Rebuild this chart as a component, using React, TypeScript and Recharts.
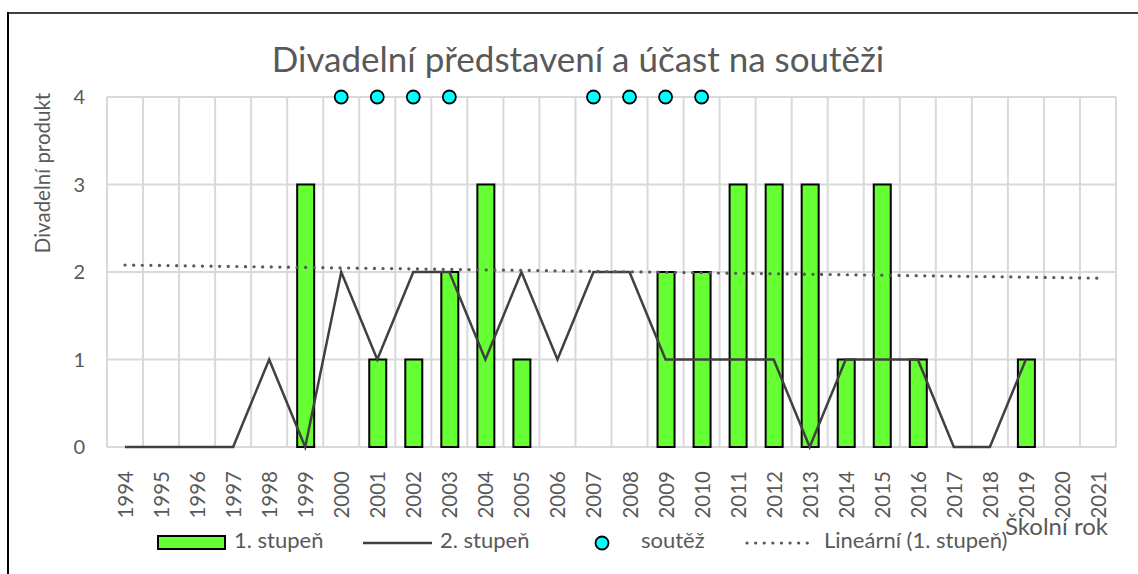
import React from "react";
import { ComposedChart, Bar, Line, XAxis, YAxis, CartesianGrid } from "recharts";

const years = ["1994","1995","1996","1997","1998","1999","2000","2001","2002","2003","2004","2005","2006","2007","2008","2009","2010","2011","2012","2013","2014","2015","2016","2017","2018","2019","2020","2021"];
const stupen1: (number | null)[] = [null,null,null,null,null,3,null,1,1,2,3,1,null,null,null,2,2,3,3,3,1,3,1,null,null,1,null,null];
const stupen2: (number | null)[] = [0,0,0,0,1,0,2,1,2,2,1,2,1,2,2,1,1,1,1,0,1,1,1,0,0,1,null,null];
const soutez: (number | null)[] = [null,null,null,null,null,null,4,4,4,4,null,null,null,4,4,4,4,null,null,null,null,null,null,null,null,null,null,null];
const trend: (number | null)[] = [2.08,null,null,null,null,null,null,null,null,null,null,null,null,null,null,null,null,null,null,null,null,null,null,null,null,null,null,1.93];
const yTicks = [0, 1, 2, 3, 4];

const data = years.map((y, i) => ({ year: y, s1: stupen1[i], s2: stupen2[i], sz: soutez[i], tr: trend[i] }));

const FONT = "Lato, 'Open Sans', sans-serif";
const GRAY = "#595959";

const XTick = (props: any) => {
  const { x, y, payload } = props;
  return (
    <g transform={`translate(${x},${y})`}>
      <text transform="rotate(-90)" x={-16} y={0} textAnchor="end" dominantBaseline="central" fill={GRAY} fontSize={20.5} fontFamily={FONT}>
        {payload.value}
      </text>
    </g>
  );
};

const Dot = (props: any) => {
  const { cx, cy, value } = props;
  if (value == null || cx == null || cy == null) return null;
  return <circle key={`d${cx}`} cx={cx} cy={cy} r={6.5} fill="#00ffff" stroke="#000" strokeWidth={1.8} />;
};

export default function App() {
  const n = years.length;
  return (
    <div style={{ position: "absolute", left: 0, top: 0, width: 1138, height: 574, background: "#fff", fontFamily: FONT, overflow: "hidden" }}>
      <div style={{ position: "absolute", left: 7, top: 12, width: 1131, height: 2, background: "#404040" }} />
      <div style={{ position: "absolute", left: 7, top: 12, width: 2, height: 562, background: "#000" }} />
      <div style={{ position: "absolute", left: -22, width: 1200, top: 37, textAlign: "center", fontSize: 35, lineHeight: 1.2, color: GRAY, whiteSpace: "nowrap" }}>
        Divadelní představení a účast na soutěži
      </div>
      <div style={{ position: "absolute", left: 42, top: 173, transform: "translate(-50%,-50%) rotate(-90deg)", whiteSpace: "nowrap", fontSize: 20.5, color: GRAY }}>
        Divadelní produkt
      </div>
      <ComposedChart width={1138} height={574} data={data} margin={{ top: 97, right: 22, left: 0, bottom: 0 }} style={{ position: "absolute", left: 0, top: 0 }}>
        <CartesianGrid
          stroke="#d9d9d9"
          strokeWidth={2}
          verticalCoordinatesGenerator={({ offset }: any) => Array.from({ length: n + 1 }, (_, i) => offset.left + (i * offset.width) / n)}
        />
        <XAxis dataKey="year" height={127} interval={0} tick={<XTick />} tickLine={false} axisLine={false} />
        <YAxis width={107} domain={[0, 4]} ticks={yTicks} tick={{ fill: GRAY, fontSize: 20, fontFamily: FONT }} tickMargin={16} tickLine={false} axisLine={false} />
        <Bar dataKey="s1" barSize={17} fill="#66ff33" stroke="#000" strokeWidth={2} isAnimationActive={false} />
        <Line dataKey="s2" stroke="#404040" strokeWidth={2.5} dot={false} isAnimationActive={false} />
        <Line dataKey="tr" stroke="#595959" strokeWidth={3.2} strokeDasharray="0.1 8.5" strokeLinecap="round" connectNulls dot={false} isAnimationActive={false} />
        <Line dataKey="sz" stroke="none" dot={<Dot />} activeDot={false} isAnimationActive={false} />
      </ComposedChart>
      <div style={{ position: "absolute", left: 1005, top: 512, fontSize: 24, lineHeight: 1.2, color: GRAY, whiteSpace: "nowrap" }}>Školní rok</div>
      <div style={{ position: "absolute", left: 0, top: 527, width: 1138, height: 30, fontSize: 22, lineHeight: 1.2, color: GRAY }}>
        <svg style={{ position: "absolute", left: 156, top: 7 }} width={72} height={18}>
          <rect x={2} y={2} width={67} height={13} fill="#66ff33" stroke="#000" strokeWidth={2} />
        </svg>
        <span style={{ position: "absolute", left: 234, top: 0, whiteSpace: "nowrap" }}>1. stupeň</span>
        <svg style={{ position: "absolute", left: 362, top: 7 }} width={72} height={18}>
          <line x1={1} y1={9} x2={70} y2={9} stroke="#404040" strokeWidth={2.5} />
        </svg>
        <span style={{ position: "absolute", left: 440, top: 0, whiteSpace: "nowrap" }}>2. stupeň</span>
        <svg style={{ position: "absolute", left: 592, top: 7 }} width={20} height={18}>
          <circle cx={10} cy={9} r={6.5} fill="#00ffff" stroke="#000" strokeWidth={1.8} />
        </svg>
        <span style={{ position: "absolute", left: 641, top: 0, whiteSpace: "nowrap" }}>soutěž</span>
        <svg style={{ position: "absolute", left: 744, top: 7 }} width={76} height={18}>
          <line x1={3} y1={9} x2={71} y2={9} stroke="#595959" strokeWidth={3.2} strokeDasharray="0.1 8.5" strokeLinecap="round" />
        </svg>
        <span style={{ position: "absolute", left: 824, top: 0, whiteSpace: "nowrap" }}>Lineární (1. stupeň)</span>
      </div>
    </div>
  );
}
